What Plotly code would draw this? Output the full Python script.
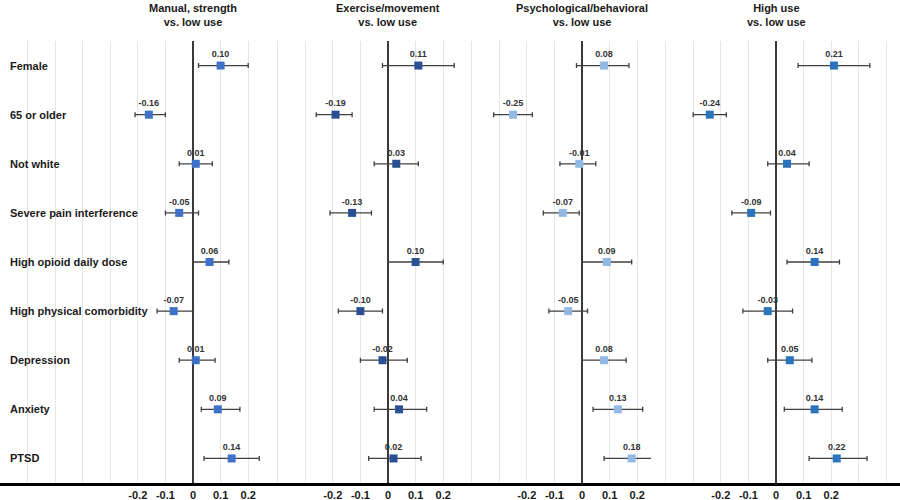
import plotly.graph_objects as go

categories = ["Female", "65 or older", "Not white", "Severe pain interference",
              "High opioid daily dose", "High physical comorbidity",
              "Depression", "Anxiety", "PTSD"]

panel_titles = ["Manual, strength<br>vs. low use",
                "Exercise/movement<br>vs. low use",
                "Psychological/behavioral<br>vs. low use",
                "High use<br>vs. low use"]

manual_est = [0.10, -0.16, 0.01, -0.05, 0.06, -0.07, 0.01, 0.09, 0.14]
manual_lo  = [0.02, -0.21, -0.05, -0.10, 0.00, -0.13, -0.05, 0.03, 0.04]
manual_hi  = [0.20, -0.10, 0.07, 0.02, 0.13, 0.00, 0.08, 0.17, 0.24]

exercise_est = [0.11, -0.19, 0.03, -0.13, 0.10, -0.10, -0.02, 0.04, 0.02]
exercise_lo  = [-0.02, -0.26, -0.05, -0.21, 0.00, -0.18, -0.10, -0.05, -0.07]
exercise_hi  = [0.24, -0.13, 0.11, -0.06, 0.20, -0.02, 0.07, 0.14, 0.12]

psych_est = [0.08, -0.25, -0.01, -0.07, 0.09, -0.05, 0.08, 0.13, 0.18]
psych_lo  = [-0.02, -0.32, -0.08, -0.14, 0.00, -0.12, 0.00, 0.04, 0.08]
psych_hi  = [0.17, -0.18, 0.05, -0.01, 0.18, 0.02, 0.16, 0.22, 0.28]

high_est = [0.21, -0.24, 0.04, -0.09, 0.14, -0.03, 0.05, 0.14, 0.22]
high_lo  = [0.08, -0.30, -0.03, -0.16, 0.04, -0.12, -0.03, 0.03, 0.12]
high_hi  = [0.34, -0.18, 0.12, -0.02, 0.23, 0.06, 0.13, 0.24, 0.33]

tick_labels = ["-0.2", "-0.1", "0", "0.1", "0.2"]
tick_values = [-0.2, -0.1, 0.0, 0.1, 0.2]

series = [(manual_est, manual_lo, manual_hi),
          (exercise_est, exercise_lo, exercise_hi),
          (psych_est, psych_lo, psych_hi),
          (high_est, high_lo, high_hi)]
colors = ["#3D72C8", "#2A4F93", "#92B8E4", "#2A74BE"]

# layout geometry (pixels)
W, H = 900, 500
scale = 276.0  # px per unit
zeros_px = [193, 388, 582, 776]
bounds_px = [0, 262, 457, 651, 900]

fig = go.Figure()
font_family = "Liberation Sans, Arial, sans-serif"

for i, (est, lo, hi) in enumerate(series):
    ax = "x" if i == 0 else f"x{i+1}"
    fig.add_trace(go.Scatter(
        x=est, y=categories, xaxis=ax, yaxis="y",
        mode="markers+text",
        text=[f"{v:.2f}" for v in est],
        textposition="top center",
        textfont=dict(size=9, color="#333333", family=font_family, weight="bold"),
        marker=dict(symbol="square", size=8, color=colors[i]),
        error_x=dict(type="data", symmetric=False,
                     array=[h - e for h, e in zip(hi, est)],
                     arrayminus=[e - l for e, l in zip(est, lo)],
                     color="#404040", thickness=1.3, width=2.5),
        showlegend=False, cliponaxis=False, hoverinfo="skip",
    ))

layout_axes = {}
for i in range(4):
    x0, x1 = bounds_px[i], bounds_px[i + 1]
    z = zeros_px[i]
    rlo, rhi = (x0 - z) / scale, (x1 - z) / scale
    grid_vals = [k / 10 for k in range(-7, 5) if rlo - 1e-9 <= k / 10 <= rhi + 1e-9]
    grid_text = [tick_labels[tick_values.index(round(v, 1))] if round(v, 1) in tick_values else ""
                 for v in grid_vals]
    name = "xaxis" if i == 0 else f"xaxis{i+1}"
    layout_axes[name] = dict(
        domain=[x0 / W, x1 / W], range=[rlo, rhi], anchor="y",
        tickmode="array", tickvals=grid_vals, ticktext=grid_text,
        showgrid=True, gridcolor="#E6E6E6", gridwidth=1,
        zeroline=True, zerolinecolor="#3A3A3A", zerolinewidth=2,
        showline=True, linecolor="#000000", linewidth=2.5,
        ticks="", tickfont=dict(size=11, color="#1A1A1A", family=font_family, weight="bold"),
        fixedrange=True,
    )
    fig.add_annotation(x=z / W, y=1, xref="paper", yref="paper",
                       yshift=11, yanchor="bottom", xanchor="center",
                       text=panel_titles[i], showarrow=False,
                       font=dict(size=11, color="#1A1A1A", family=font_family, weight="bold"))

for c in categories:
    fig.add_annotation(x=8 / W, xref="paper", y=c, yref="y", xanchor="left",
                       text=c, showarrow=False,
                       font=dict(size=11, color="#1A1A1A", family=font_family, weight="bold"))

fig.update_layout(
    width=W, height=H,
    margin=dict(l=0, r=0, t=41, b=17),
    paper_bgcolor="white", plot_bgcolor="white",
    yaxis=dict(type="category", categoryorder="array", categoryarray=categories,
               range=[8.5, -0.5], showticklabels=False, showgrid=False,
               zeroline=False, showline=False, fixedrange=True),
    **layout_axes,
)

fig.write_html("out.html", config={"displayModeBar": False},
               post_script="document.body.style.margin='0';")
